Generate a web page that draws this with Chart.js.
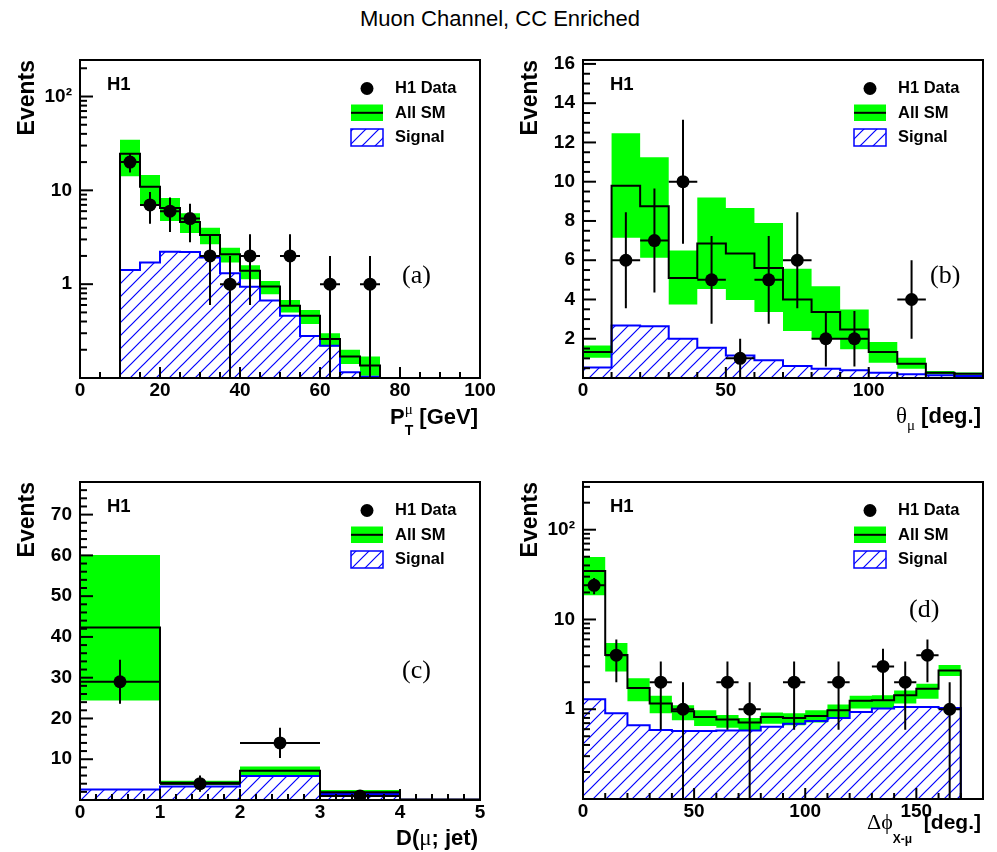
<!DOCTYPE html>
<html>
<head>
<meta charset="utf-8">
<script src="https://cdn.jsdelivr.net/npm/chart.js@4.4.1/dist/chart.umd.min.js"></script>
<style>
  body { margin: 0; background: #fff; }
  #page { position: relative; width: 997px; height: 852px; overflow: hidden; }
  #title { position: absolute; left: 0; top: 8px; width: 1000px; text-align: center;
           font: 22px/22px "Liberation Sans", Arial, sans-serif; color: #000; }
  canvas { position: absolute; }
</style>
</head>
<body>
<div id="page">
  <div id="title">Muon Channel, CC Enriched</div>
  <canvas id="cA" width="498" height="412" style="left:0;top:40px"></canvas>
  <canvas id="cB" width="499" height="412" style="left:498px;top:40px"></canvas>
  <canvas id="cC" width="498" height="400" style="left:0;top:452px"></canvas>
  <canvas id="cD" width="499" height="400" style="left:498px;top:452px"></canvas>
</div>
<script>
const SANS = '"Liberation Sans", Arial, Helvetica, sans-serif';
const SERIF = '"Liberation Serif", "Times New Roman", serif';
const GREEN = '#00ff00';
const BLUE = '#0000ff';

const legendLabels = ['H1 Data', 'All SM', 'Signal'];

// ─── (a) muon transverse momentum ───────────────────────
const ptEdges = [0, 5, 10, 15, 20, 25, 30, 35, 40, 45, 50, 55, 60, 65, 70, 75, 80, 85, 90, 95, 100];
const ptSM     = [0, 0, 24.6, 10.9, 6.5, 4.6, 3.34, 2.08, 1.39, 0.945, 0.589, 0.46, 0.26, 0.17, 0.136, 0, 0, 0, 0, 0];
const ptBandHi = [null, null, 34.6, 14.6, 8.3, 5.7, 4.0, 2.45, 1.59, 1.08, 0.68, 0.53, 0.30, 0.20, 0.17, null, null, null, null, null];
const ptBandLo = [null, null, 14.1, 6.8, 4.7, 3.5, 2.66, 1.70, 1.13, 0.78, 0.50, 0.376, 0.216, 0.141, 0.106, null, null, null, null, null];
const ptSignal = [0, 0, 1.42, 1.70, 2.22, 2.2, 1.92, 1.31, 0.94, 0.67, 0.46, 0.28, 0.22, 0.115, 0.103, 0, 0, 0, 0, 0];
const ptData   = [0, 0, 20, 7, 6, 5, 2, 1, 2, 0, 2, 0, 1, 0, 1, 0, 0, 0, 0, 0];
const ptErr    = [0, 0, 4.5, 2.6, 2.4, 2.2, 1.4, 1, 1.4, 0, 1.4, 0, 1, 0, 1, 0, 0, 0, 0, 0];
const ptXMajor = [0, 20, 40, 60, 80, 100];

// ─── (b) muon polar angle ───────────────────────────────
const thEdges = [0, 10, 20, 30, 40, 50, 60, 70, 80, 90, 100, 110, 120, 130, 140];
const thSM     = [1.32, 9.8, 8.75, 5.1, 6.85, 6.34, 5.61, 4.0, 3.36, 2.47, 1.32, 0.73, 0.27, 0.22];
const thBandHi = [1.66, 12.47, 11.25, 6.49, 9.2, 8.66, 7.9, 5.56, 4.68, 3.49, 1.83, 1.03, 0.36, 0.28];
const thBandLo = [1.03, 7.14, 6.12, 3.75, 4.54, 3.97, 3.36, 2.39, 2.0, 1.46, 0.78, 0.47, 0.19, 0.16];
const thSignal = [0.53, 2.68, 2.64, 2.0, 1.54, 1.15, 0.9, 0.61, 0.47, 0.39, 0.27, 0.19, 0.14, 0.1];
const thData   = [0, 6, 7, 10, 5, 1, 5, 6, 2, 2, 0, 4, 0, 0];
const thErr    = [0, 2.45, 2.65, 3.16, 2.24, 1, 2.24, 2.45, 1.41, 1.41, 0, 2, 0, 0];
const thXMajor = [0, 50, 100];
const thYMajor = [2, 4, 6, 8, 10, 12, 14, 16];

// ─── (c) distance muon - jet ────────────────────────────
const djEdges = [0, 1, 2, 3, 4, 5];
const djSM     = [42.3, 4.26, 7.2, 1.9, 0.15];
const djBandHi = [60.1, 4.7, 8.2, 2.45, null];
const djBandLo = [24.4, 3.7, 6.1, 1.2, null];
const djSignal = [2.6, 3.3, 5.9, 1.5, 0.05];
const djData   = [29, 4, 14, 1, 0];
const djErr    = [5.4, 2, 3.7, 1, 0];
const djXMajor = [0, 1, 2, 3, 4, 5];
const djYMajor = [10, 20, 30, 40, 50, 60, 70];

// ─── (d) acoplanarity ───────────────────────────────────
const dpEdges = [0, 10, 20, 30, 40, 50, 60, 70, 80, 90, 100, 110, 120, 130, 140, 150, 160, 170, 180];
const dpSM     = [34.6, 4.03, 1.72, 1.16, 0.95, 0.82, 0.77, 0.71, 0.82, 0.80, 0.84, 0.975, 1.24, 1.26, 1.43, 1.69, 2.70, 0];
const dpBandHi = [49.8, 5.47, 2.22, 1.41, 1.11, 0.975, 0.86, 0.80, 0.92, 0.90, 0.975, 1.13, 1.41, 1.43, 1.62, 1.92, 3.12, null];
const dpBandLo = [18.6, 2.63, 1.23, 0.90, 0.755, 0.65, 0.62, 0.586, 0.69, 0.665, 0.71, 0.80, 1.02, 1.03, 1.16, 1.31, 2.34, null];
const dpSignal = [1.29, 0.90, 0.665, 0.586, 0.571, 0.571, 0.58, 0.58, 0.64, 0.69, 0.74, 0.80, 0.93, 1.02, 1.06, 1.06, 1.03, 0];
const dpData   = [24, 4, 0, 2, 1, 0, 2, 1, 0, 2, 0, 2, 0, 3, 2, 4, 1, 0];
const dpErr    = [4.9, 2, 0, 1.41, 1, 0, 1.41, 1, 0, 1.41, 0, 1.41, 0, 1.73, 1.41, 2, 1, 0];
const dpXMajor = [0, 50, 100, 150];

// log axis ticks
const logMajor  = [1, 10, 100];
const logLabels = ['1', '10', '10\u00b2'];
const logMinor  = [0.2, 0.3, 0.4, 0.5, 0.6, 0.7, 0.8, 0.9, 2, 3, 4, 5, 6, 7, 8, 9,
                   20, 30, 40, 50, 60, 70, 80, 90, 200, 300];

// ─── helpers ────────────────────────────────────────────
function stepPoints(edges, vals, floor) {
  const first = vals.findIndex(v => v !== null);
  let last = vals.length - 1;
  while (last >= 0 && vals[last] === null) last--;
  const pts = [];
  for (let i = first; i <= last; i++) pts.push({ x: edges[i], y: Math.max(vals[i], floor) });
  pts.push({ x: edges[last + 1], y: Math.max(vals[last], floor) });
  return pts;
}

function markerPoints(edges, counts) {
  const pts = [];
  counts.forEach((n, i) => { if (n > 0) pts.push({ x: (edges[i] + edges[i + 1]) / 2, y: n }); });
  return pts;
}

function errorPoints(edges, counts, errs, floor) {
  const pts = [];
  counts.forEach((n, i) => {
    if (!(n > 0)) return;
    const c = (edges[i] + edges[i + 1]) / 2;
    pts.push({ x: c, y: Math.max(n - errs[i], floor) }, { x: c, y: n + errs[i] }, { x: c, y: null });
    pts.push({ x: edges[i], y: n }, { x: edges[i + 1], y: n }, { x: c, y: null });
  });
  return pts;
}

function minorTicks(lo, hi, step, majors) {
  const out = [];
  for (let k = 1; lo + k * step <= hi + 1e-9; k++) {
    const v = +(lo + k * step).toFixed(4);
    if (!majors.some(m => Math.abs(m - v) < 1e-6)) out.push(v);
  }
  return out;
}

function hatchTile() {
  const s = 13;
  const c = document.createElement('canvas');
  c.width = s; c.height = s;
  const g = c.getContext('2d');
  g.strokeStyle = BLUE;
  g.lineWidth = 1.2;
  g.beginPath();
  g.moveTo(-1, s + 1); g.lineTo(s + 1, -1);
  g.moveTo(-1, 1); g.lineTo(1, -1);
  g.moveTo(s - 1, s + 1); g.lineTo(s + 1, s - 1);
  g.stroke();
  return c;
}
const TILE = hatchTile();

function drawRuns(ctx, runs, right, base) {
  ctx.textAlign = 'left';
  const widths = runs.map(r => {
    ctx.font = r.font;
    let w = ctx.measureText(r.text).width;
    if (r.sup) { ctx.font = r.supFont; w = Math.max(w, ctx.measureText(r.sup).width); }
    return w;
  });
  let x = right - widths.reduce((s, w) => s + w, 0);
  runs.forEach((r, i) => {
    ctx.font = r.font;
    ctx.fillText(r.text, x, base + (r.dy || 0));
    if (r.sup) { ctx.font = r.supFont; ctx.fillText(r.sup, x, base + r.supDy); }
    x += widths[i];
  });
}

// ROOT style: tick marks point into the frame, minor ones shorter
const TICK_LEN = { x: 11, xm: 6, y: 13, ym: 7 };

function drawInnerTicks(chart) {
  const { ctx, chartArea: a } = chart;
  ctx.save();
  ctx.strokeStyle = '#000000';
  ctx.lineWidth = 2;
  for (const id of Object.keys(TICK_LEN)) {
    const s = chart.scales[id];
    if (!s) continue;
    const len = TICK_LEN[id];
    for (const t of s.ticks) {
      const px = s.getPixelForValue(t.value);
      ctx.beginPath();
      if (s.axis === 'x') { ctx.moveTo(px, a.bottom); ctx.lineTo(px, a.bottom - len); }
      else { ctx.moveTo(a.left, px); ctx.lineTo(a.left + len, px); }
      ctx.stroke();
    }
  }
  ctx.restore();
}

function decorPlugin(p, pattern) {
  return {
    id: 'decor',
    afterDraw(chart) {
      const { ctx, chartArea: a } = chart;
      drawInnerTicks(chart);
      ctx.save();
      ctx.strokeStyle = '#000';
      ctx.lineWidth = 2;
      ctx.strokeRect(a.left, a.top, a.right - a.left, a.bottom - a.top);

      ctx.fillStyle = '#000';
      ctx.textBaseline = 'alphabetic';
      ctx.textAlign = 'left';
      ctx.font = 'bold 18.5px ' + SANS;
      ctx.fillText('H1', a.left + 27, a.top + 30);

      ctx.font = '26px ' + SERIF;
      ctx.fillText(p.letter, a.left + p.letterDx, a.top + p.letterDy);

      // legend
      const lx = a.left + 271;
      ctx.beginPath();
      ctx.arc(a.left + 287, a.top + 28.5, 6.5, 0, Math.PI * 2);
      ctx.fill();
      ctx.fillStyle = GREEN;
      ctx.fillRect(lx, a.top + 44.5, 32, 16.5);
      ctx.fillStyle = '#000';
      ctx.fillRect(lx, a.top + 51.8, 32, 2);
      ctx.fillStyle = pattern;
      ctx.fillRect(lx, a.top + 69, 32, 17);
      ctx.strokeStyle = BLUE;
      ctx.lineWidth = 1.5;
      ctx.strokeRect(lx, a.top + 69, 32, 17);
      ctx.fillStyle = '#000';
      ctx.font = 'bold 16.5px ' + SANS;
      legendLabels.forEach((t, i) => ctx.fillText(t, a.left + 315, a.top + 33.3 + i * 24.3));

      // y title
      ctx.save();
      ctx.translate(a.left - 46, a.top);
      ctx.rotate(-Math.PI / 2);
      ctx.textAlign = 'right';
      ctx.font = 'bold 23px ' + SANS;
      ctx.fillText('Events', 0, 0);
      ctx.restore();

      // x title
      drawRuns(ctx, p.xTitle, a.right - 2, a.bottom + p.xTitleDy);
      ctx.restore();
    }
  };
}

function setTicks(vals) {
  return scale => {
    scale.ticks = vals.filter(v => v >= scale.min - 1e-9 && v <= scale.max + 1e-9).map(v => ({ value: v }));
  };
}

function fixSize(dim, size) {
  return s => {
    s[dim] = size;
    s.paddingTop = 0; s.paddingBottom = 0; s.paddingLeft = 0; s.paddingRight = 0;
  };
}

function buildScales(p) {
  const tickFont = { family: SANS, weight: 'bold', size: 19 };
  const yType = p.log ? 'logarithmic' : 'linear';
  const yMajor = p.log ? logMajor : p.yMajor;
  const yMinor = p.log ? logMinor : minorTicks(p.yMin, p.yMax, p.yStep, p.yMajor);
  const xMinor = minorTicks(p.xMin, p.xMax, p.xStep, p.xMajor);
  const noGrid = { display: false, drawOnChartArea: false, drawTicks: false, tickLength: 0 };
  return {
    x: {
      type: 'linear', axis: 'x', position: 'bottom', min: p.xMin, max: p.xMax, bounds: 'data',
      weight: 0, offset: false,
      afterBuildTicks: setTicks(p.xMajor),
      afterFit: fixSize('height', p.xAxisH),
      grid: noGrid, border: { display: false },
      ticks: { autoSkip: false, maxRotation: 0, minRotation: 0, padding: 1, color: '#000',
               font: tickFont, callback: v => String(v) }
    },
    xm: {
      type: 'linear', axis: 'x', position: 'bottom', min: p.xMin, max: p.xMax, bounds: 'data',
      weight: -1, offset: false, display: true,
      afterBuildTicks: setTicks(xMinor),
      afterFit: fixSize('height', 0),
      grid: noGrid, border: { display: false },
      ticks: { display: false, autoSkip: false }
    },
    y: {
      type: yType, axis: 'y', position: 'left', min: p.yMin, max: p.yMax, bounds: 'data',
      weight: 0,
      afterBuildTicks: setTicks(yMajor),
      afterFit: fixSize('width', p.yAxisW),
      grid: noGrid, border: { display: false },
      ticks: { autoSkip: false, padding: 8, color: '#000', font: tickFont,
               callback: v => p.log ? (logLabels[logMajor.indexOf(v)] || '') : String(v) }
    },
    ym: {
      type: yType, axis: 'y', position: 'left', min: p.yMin, max: p.yMax, bounds: 'data',
      weight: -1, display: true,
      afterBuildTicks: setTicks(yMinor),
      afterFit: fixSize('width', 0),
      grid: noGrid, border: { display: false },
      ticks: { display: false, autoSkip: false }
    }
  };
}

function makePanel(p) {
  const canvas = document.getElementById(p.canvas);
  const pattern = canvas.getContext('2d').createPattern(TILE, 'repeat');
  const floor = p.log ? p.yMin : 0;
  const common = { type: 'line', xAxisID: 'x', yAxisID: 'y', pointRadius: 0, stepped: true };
  const datasets = [
    Object.assign({}, common, { label: 'SM band', data: stepPoints(p.edges, p.bandHi, floor),
      borderColor: 'rgba(0,0,0,0)', borderWidth: 0, backgroundColor: GREEN, fill: '+1', order: 6 }),
    Object.assign({}, common, { label: 'SM band low', data: stepPoints(p.edges, p.bandLo, floor),
      borderColor: 'rgba(0,0,0,0)', borderWidth: 0, fill: false, order: 5 }),
    Object.assign({}, common, { label: 'Signal', data: stepPoints(p.edges, p.signal, floor),
      borderColor: BLUE, borderWidth: 2, backgroundColor: pattern, fill: 'start', order: 4 }),
    Object.assign({}, common, { label: 'All SM', data: stepPoints(p.edges, p.sm, floor),
      borderColor: '#000', borderWidth: 2, fill: false, order: 3 }),
    Object.assign({}, common, { label: 'errors', stepped: false, spanGaps: false,
      data: errorPoints(p.edges, p.data, p.err, floor),
      borderColor: '#000', borderWidth: 2, fill: false, order: 2 }),
    Object.assign({}, common, { label: 'H1 Data', stepped: false, showLine: false,
      data: markerPoints(p.edges, p.data),
      pointRadius: 6.5, pointBackgroundColor: '#000', pointBorderWidth: 0, fill: false, order: 1 })
  ];
  return new Chart(canvas, {
    type: 'line',
    data: { datasets },
    options: {
      responsive: false,
      animation: false,
      events: [],
      layout: { padding: { left: 0, top: p.padTop, right: p.padRight, bottom: 0 } },
      plugins: { legend: { display: false }, tooltip: { enabled: false } },
      scales: buildScales(p)
    },
    plugins: [decorPlugin(p, pattern)]
  });
}

const bold = (s) => 'bold ' + s + 'px ' + SANS;
const serif = (s) => s + 'px ' + SERIF;

makePanel({
  canvas: 'cA', edges: ptEdges, sm: ptSM, bandHi: ptBandHi, bandLo: ptBandLo, signal: ptSignal,
  data: ptData, err: ptErr, log: true, yMin: 0.1, yMax: 245,
  xMin: 0, xMax: 100, xMajor: ptXMajor, xStep: 5,
  padTop: 20, padRight: 18, yAxisW: 80, xAxisH: 74,
  letter: '(a)', letterDx: 322, letterDy: 223,
  xTitleDy: 46,
  xTitle: [{ text: 'P', font: bold(22) },
           { text: 'T', font: bold(14), dy: 11, sup: '\u03bc', supFont: serif(15), supDy: -10 },
           { text: ' [GeV]', font: bold(22) }]
});

makePanel({
  canvas: 'cB', edges: thEdges, sm: thSM, bandHi: thBandHi, bandLo: thBandLo, signal: thSignal,
  data: thData, err: thErr, log: false, yMin: 0, yMax: 16.2, yMajor: thYMajor, yStep: 0.5,
  xMin: 0, xMax: 140, xMajor: thXMajor, xStep: 10,
  padTop: 20, padRight: 14, yAxisW: 85, xAxisH: 74,
  letter: '(b)', letterDx: 347, letterDy: 223,
  xTitleDy: 45,
  xTitle: [{ text: '\u03b8', font: serif(23) },
           { text: '\u03bc', font: serif(15), dy: 7 },
           { text: ' [deg.]', font: bold(22) }]
});

makePanel({
  canvas: 'cC', edges: djEdges, sm: djSM, bandHi: djBandHi, bandLo: djBandLo, signal: djSignal,
  data: djData, err: djErr, log: false, yMin: 0, yMax: 78, yMajor: djYMajor, yStep: 2,
  xMin: 0, xMax: 5, xMajor: djXMajor, xStep: 0.2,
  padTop: 30, padRight: 18, yAxisW: 80, xAxisH: 52,
  letter: '(c)', letterDx: 322, letterDy: 196,
  xTitleDy: 45,
  xTitle: [{ text: 'D(', font: bold(22) },
           { text: '\u03bc', font: serif(23) },
           { text: '; jet)', font: bold(22) }]
});

makePanel({
  canvas: 'cD', edges: dpEdges, sm: dpSM, bandHi: dpBandHi, bandLo: dpBandLo, signal: dpSignal,
  data: dpData, err: dpErr, log: true, yMin: 0.1, yMax: 340,
  xMin: 0, xMax: 180, xMajor: dpXMajor, xStep: 10,
  padTop: 30, padRight: 14, yAxisW: 85, xAxisH: 53,
  letter: '(d)', letterDx: 326, letterDy: 135,
  xTitleDy: 30,
  xTitle: [{ text: '\u0394\u03d5', font: serif(22) },
           { text: 'X-\u03bc', font: bold(12), dy: 14 },
           { text: '  [deg.]', font: bold(21) }]
});
</script>
</body>
</html>
